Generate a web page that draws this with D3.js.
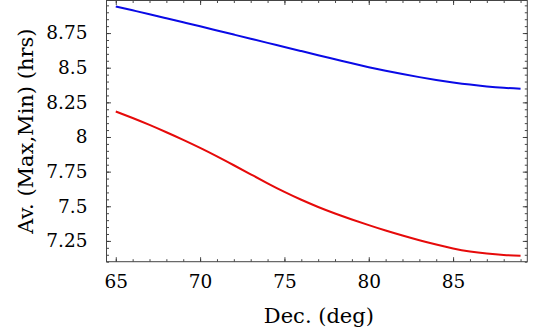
<!DOCTYPE html>
<html><head><meta charset="utf-8">
<script src="https://cdn.jsdelivr.net/npm/d3@7"></script>
<style>
html,body{margin:0;padding:0;background:#fff;}
svg{display:block;}
text{font-family:"DejaVu Serif",serif;fill:#000;}
</style></head>
<body>
<script>
const decDeg = [65,66,67,68,69,70,71,72,73,74,75,76,77,78,79,80,81,82,83,84,85,86,87,88,89];
const maxHours = [8.942,8.914,8.886,8.857,8.828,8.799,8.769,8.739,8.709,8.679,8.650,8.620,8.590,8.561,8.532,8.504,8.478,8.454,8.432,8.412,8.394,8.378,8.365,8.355,8.348];
const minHours = [8.184,8.137,8.087,8.034,7.979,7.921,7.860,7.796,7.731,7.666,7.604,7.547,7.495,7.448,7.405,7.364,7.325,7.289,7.255,7.224,7.196,7.174,7.159,7.149,7.143];
const xTickLabels = [65,70,75,80,85];
const yTickLabels = ["7.25","7.5","7.75","8","8.25","8.5","8.75"];
const seriesColors = ["#0a0ae6","#e60a0a"];

(function(){
const W=538,H=332;
const mL=106.5,mR=527.3,mT=0.5,mB=261.7;
const svg=d3.select("body").append("svg").attr("width",W).attr("height",H);
const x=d3.scaleLinear().domain([64.45,89.4]).range([mL,mR]);
const y=d3.scaleLinear().domain([7.1,8.985]).range([mB,mT]);

const xMinor=d3.range(65,89.5,1);
const yMinor=d3.range(7.10,8.98,0.05).map(v=>+v.toFixed(2));
const yMajor=yTickLabels.map(Number);

function styleAxis(g){g.select(".domain").remove();g.selectAll("line").attr("stroke","#333").attr("stroke-width",0.9);}

svg.append("g").attr("transform",`translate(0,${mB})`).call(d3.axisBottom(x).tickValues(xMinor).tickSize(-2.5).tickFormat("")).call(styleAxis);
svg.append("g").attr("transform",`translate(0,${mT})`).call(d3.axisTop(x).tickValues(xMinor).tickSize(-2.5).tickFormat("")).call(styleAxis);
svg.append("g").attr("transform",`translate(${mL},0)`).call(d3.axisLeft(y).tickValues(yMinor).tickSize(-2.5).tickFormat("")).call(styleAxis);
svg.append("g").attr("transform",`translate(${mR},0)`).call(d3.axisRight(y).tickValues(yMinor).tickSize(-2.5).tickFormat("")).call(styleAxis);
svg.append("g").attr("transform",`translate(0,${mB})`).call(d3.axisBottom(x).tickValues(xTickLabels).tickSize(-4.5).tickPadding(13).tickFormat(d3.format("d"))).call(styleAxis);
svg.append("g").attr("transform",`translate(0,${mT})`).call(d3.axisTop(x).tickValues(xTickLabels).tickSize(-4.5).tickFormat("")).call(styleAxis);
svg.append("g").attr("transform",`translate(${mL},0)`).call(d3.axisLeft(y).tickValues(yMajor).tickSize(-4.5).tickPadding(19).tickFormat((d,i)=>yTickLabels[i])).call(styleAxis);
svg.append("g").attr("transform",`translate(${mR},0)`).call(d3.axisRight(y).tickValues(yMajor).tickSize(-4.5).tickFormat("")).call(styleAxis);
svg.selectAll("g text").attr("font-family","DejaVu Serif").attr("font-size",18.5).attr("fill","#000");

svg.append("rect").attr("x",mL).attr("y",mT).attr("width",mR-mL).attr("height",mB-mT)
  .attr("fill","none").attr("stroke","#444").attr("stroke-width",1);

const line=d3.line().x((d,i)=>x(decDeg[i])).y(d=>y(d)).curve(d3.curveNatural);
[maxHours,minHours].forEach((s,k)=>{
  svg.append("path").datum(s).attr("d",line).attr("fill","none").attr("stroke",seriesColors[k]).attr("stroke-width",2);
});

svg.append("text").attr("x",(mL+mR)/2+2).attr("y",323).attr("text-anchor","middle").attr("font-size",21).text("Dec. (deg)");
svg.append("text").attr("transform",`translate(33,${(mT+mB)/2}) rotate(-90)`).attr("text-anchor","middle").attr("font-size",21).text("Av. (Max,Min) (hrs)");
})();
</script>
</body></html>
